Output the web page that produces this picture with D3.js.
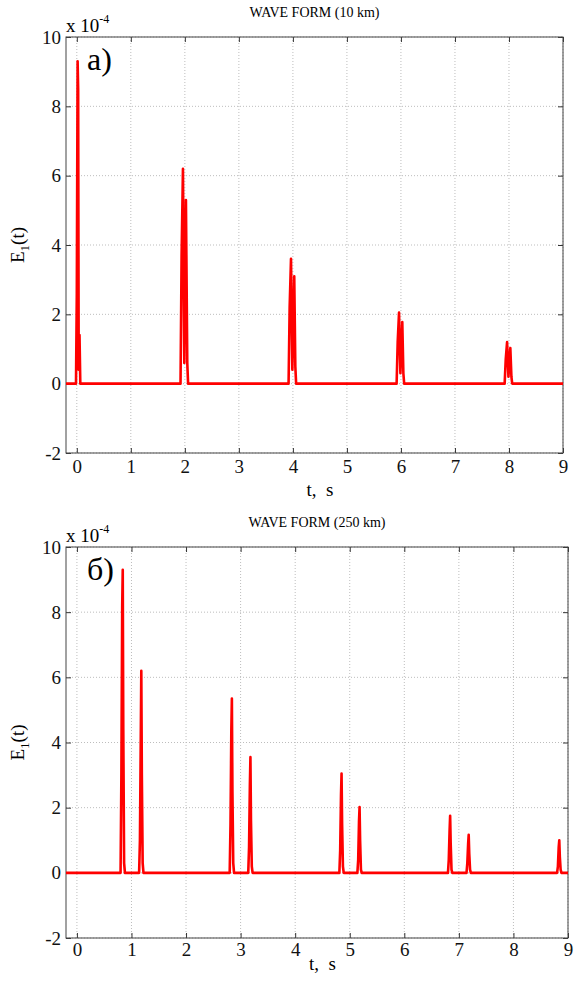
<!DOCTYPE html>
<html>
<head>
<meta charset="utf-8">
<script src="https://cdn.jsdelivr.net/npm/d3@7.9.0/dist/d3.min.js"></script>
<style>
  html, body { margin: 0; padding: 0; background: #fff; }
  svg { display: block; }
</style>
</head>
<body>
<svg id="chart" width="578" height="983"></svg>
<script>
// ====== DATA ======

const xTicks = [0, 1, 2, 3, 4, 5, 6, 7, 8, 9];
const yTicks = [-2, 0, 2, 4, 6, 8, 10];

// panel a) wave form at 10 km
const timeA = [
  -0.2, -0.015, 0.0, 0.015, 0.025, 0.035, 0.05, 0.065,
  1.92, 1.94, 1.965, 1.99, 2.02, 2.045, 2.06,
  3.92, 3.94, 3.965, 3.99, 4.025, 4.045, 4.06,
  5.92, 5.94, 5.965, 5.99, 6.025, 6.045, 6.06,
  7.92, 7.94, 7.965, 7.99, 8.025, 8.045, 8.06,
  9.0
];
const valueA = [
  0, 0, 2.6, 9.3, 8.5, 0.4, 1.4, 0,
  0, 3.7, 6.2, 0.6, 5.3, 0.6, 0,
  0, 2.2, 3.6, 0.4, 3.1, 0.5, 0,
  0, 1.2, 2.05, 0.3, 1.78, 0.3, 0,
  0, 0.7, 1.2, 0.2, 1.03, 0.2, 0,
  0
];

// panel б) wave form at 250 km
const timeB = [
  -0.2,
  0.80, 0.815, 0.83, 0.84, 0.85, 0.865, 0.88,
  1.14, 1.155, 1.17, 1.18, 1.19, 1.205, 1.22,
  2.80, 2.815, 2.83, 2.84, 2.85, 2.865, 2.88,
  3.14, 3.155, 3.17, 3.18, 3.19, 3.205, 3.22,
  4.81, 4.825, 4.84, 4.85, 4.86, 4.875, 4.89,
  5.14, 5.155, 5.17, 5.18, 5.19, 5.205, 5.22,
  6.80, 6.815, 6.83, 6.84, 6.85, 6.865, 6.88,
  7.14, 7.155, 7.17, 7.18, 7.19, 7.205, 7.22,
  8.80, 8.815, 8.83, 8.84, 8.85, 8.865, 8.88,
  9.0
];
const valueB = [
  0,
  0, 3.0, 8.2, 9.3, 4.4, 0.3, 0,
  0, 1.0, 4.1, 6.2, 3.0, 0.3, 0,
  0, 1.5, 4.4, 5.35, 2.5, 0.3, 0,
  0, 0.8, 2.7, 3.55, 1.6, 0.2, 0,
  0, 0.7, 2.4, 3.05, 1.5, 0.2, 0,
  0, 0.4, 1.6, 2.02, 1.0, 0.1, 0,
  0, 0.4, 1.3, 1.75, 0.9, 0.1, 0,
  0, 0.3, 0.9, 1.17, 0.6, 0.1, 0,
  0, 0.2, 0.8, 1.0, 0.5, 0.1, 0,
  0
];

const panels = [
  { id: 'a', title: 'WAVE FORM (10 km)', tag: 'a)', time: timeA, value: valueA,
    left: 66, top: 37, width: 497, height: 416, tickPad: 7, xLabelY: 43 },
  { id: 'b', title: 'WAVE FORM (250 km)', tag: 'б)', time: timeB, value: valueB,
    left: 66, top: 547, width: 502, height: 391, tickPad: 5, xLabelY: 32 }
];

const FONT = '"Liberation Serif", "Times New Roman", serif';

// ====== DRAW ======

const svg = d3.select('#chart');

function drawPanel(p) {
  const g = svg.append('g')
    .attr('transform', `translate(${p.left},${p.top})`)
    .attr('font-family', FONT);
  const x = d3.scaleLinear().domain([-0.2, 9]).range([0, p.width]);
  const y = d3.scaleLinear().domain([-2, 10]).range([p.height, 0]);

  // grid
  g.append('g')
    .selectAll('line')
    .data(xTicks)
    .join('line')
    .attr('x1', (d) => x(d)).attr('x2', (d) => x(d))
    .attr('y1', 0).attr('y2', p.height)
    .attr('stroke', '#bdbdbd')
    .attr('stroke-dasharray', '1,2');

  g.append('g')
    .selectAll('line')
    .data(yTicks)
    .join('line')
    .attr('x1', 0).attr('x2', p.width)
    .attr('y1', (d) => y(d)).attr('y2', (d) => y(d))
    .attr('stroke', '#bdbdbd')
    .attr('stroke-dasharray', '1,2');

  // axes (ticks pointing inward, mirrored on top/right)
  const fmt = (d) => String(d);
  const axisStyle = (sel) => {
    sel.attr('font-family', FONT).attr('font-size', 19);
    sel.select('.domain').remove();
    sel.selectAll('.tick line').attr('stroke', '#333');
    sel.selectAll('.tick text')
      .attr('font-family', FONT)
      .attr('font-size', 19)
      .attr('fill', '#111');
  };

  g.append('g')
    .attr('transform', `translate(0,${p.height})`)
    .call(d3.axisBottom(x).tickValues(xTicks).tickSize(-5).tickPadding(p.tickPad).tickFormat(fmt))
    .call(axisStyle);

  g.append('g')
    .call(d3.axisTop(x).tickValues(xTicks).tickSize(-5).tickFormat(''))
    .call(axisStyle);

  g.append('g')
    .call(d3.axisLeft(y).tickValues(yTicks).tickSize(-5).tickPadding(5).tickFormat(fmt))
    .call(axisStyle);

  g.append('g')
    .attr('transform', `translate(${p.width},0)`)
    .call(d3.axisRight(y).tickValues(yTicks).tickSize(-5).tickFormat(''))
    .call(axisStyle);

  // box
  g.append('rect')
    .attr('width', p.width)
    .attr('height', p.height)
    .attr('fill', 'none')
    .attr('stroke', '#444')
    .attr('stroke-width', 1);

  // clip + line
  g.append('clipPath')
    .attr('id', 'clip-' + p.id)
    .append('rect')
    .attr('width', p.width)
    .attr('height', p.height);

  const points = p.time.map((t, i) => [t, p.value[i]]);
  const line = d3.line().x((d) => x(d[0])).y((d) => y(d[1]));

  g.append('path')
    .datum(points)
    .attr('clip-path', `url(#clip-${p.id})`)
    .attr('d', line)
    .attr('fill', 'none')
    .attr('stroke', '#ff0000')
    .attr('stroke-width', 2.6)
    .attr('stroke-linejoin', 'round');

  // title
  g.append('text')
    .attr('x', p.width / 2)
    .attr('y', -20)
    .attr('text-anchor', 'middle')
    .attr('font-family', FONT)
    .attr('font-size', 14)
    .text(p.title);

  // exponent "x 10^-4"
  const ex = g.append('text')
    .attr('x', 0)
    .attr('y', -5)
    .attr('font-family', FONT)
    .attr('font-size', 19);
  ex.append('tspan').text('x 10');
  ex.append('tspan').attr('dy', -9).attr('font-size', 12).text('-4');

  // panel tag
  g.append('text')
    .attr('x', 21)
    .attr('y', 33)
    .attr('font-family', FONT)
    .attr('font-size', 32)
    .text(p.tag);

  // x label
  g.append('text')
    .attr('x', x(4.5))
    .attr('y', p.height + p.xLabelY)
    .attr('text-anchor', 'middle')
    .attr('font-family', FONT)
    .attr('font-size', 19)
    .attr('xml:space', 'preserve')
    .text('t,  s');

  // y label E1(t)
  const yl = g.append('text')
    .attr('transform', `translate(-42,${p.height / 2}) rotate(-90)`)
    .attr('text-anchor', 'middle')
    .attr('font-family', FONT)
    .attr('font-size', 19);
  yl.append('tspan').text('E');
  yl.append('tspan').attr('dy', 5).attr('font-size', 13).text('1');
  yl.append('tspan').attr('dy', -5).text('(t)');
}

panels.forEach(drawPanel);
</script>
</body>
</html>
